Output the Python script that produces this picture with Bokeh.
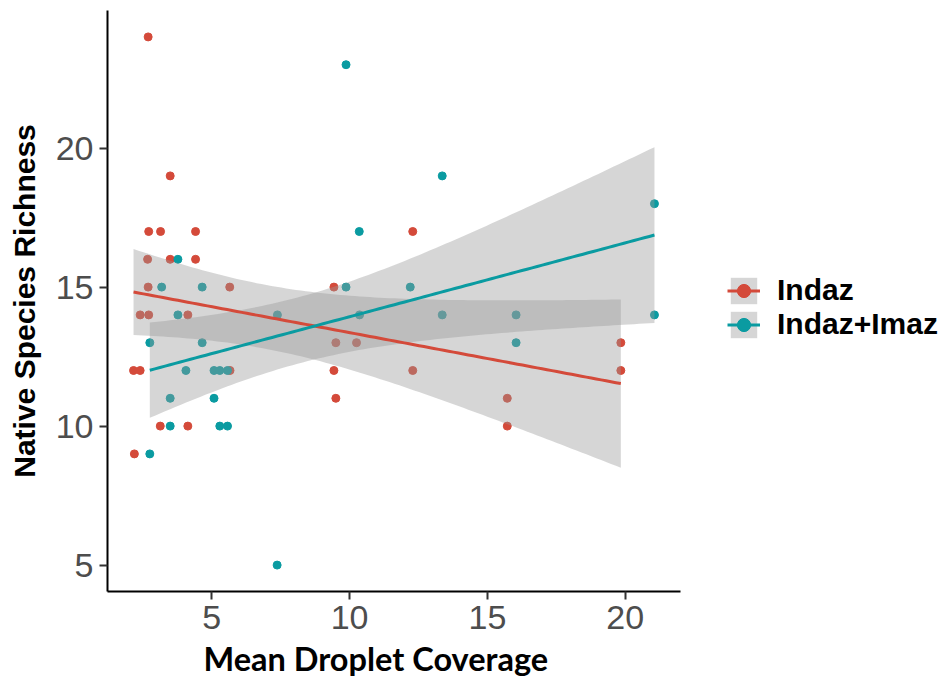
import math
import numpy as np
from bokeh.plotting import figure
from bokeh.models import Range1d, FixedTicker, Legend, LegendItem, Title
from bokeh.embed import file_html
from bokeh.resources import INLINE

# ---------------- data ----------------
groups = ["Indaz", "Indaz+Imaz"]

indaz_x = [2.69, 3.49, 2.71, 3.14, 4.41, 2.67, 3.49, 4.41, 2.69, 5.65,
           2.40, 2.71, 4.13, 2.16, 2.40, 5.66, 3.13, 4.13, 2.19,
           12.29, 9.43, 9.50, 10.25, 9.43, 12.29, 9.50, 19.84, 19.84, 15.72, 15.72]
indaz_y = [24, 19, 17, 17, 17, 16, 16, 16, 15, 15,
           14, 14, 14, 12, 12, 12, 10, 10, 9,
           17, 15, 13, 13, 12, 12, 11, 13, 12, 11, 10]

imaz_x = [3.77, 3.18, 4.65, 3.77, 2.75, 4.65, 4.06, 5.08, 5.29, 5.57,
          3.49, 5.08, 3.49, 5.29, 5.57, 2.75,
          9.87, 13.36, 10.35, 9.87, 12.20, 7.38, 10.36, 13.36, 21.06, 16.04, 21.06, 16.04, 7.37]
imaz_y = [16, 15, 15, 14, 13, 13, 12, 12, 12, 12,
          11, 11, 10, 10, 10, 9,
          23, 19, 17, 15, 15, 14, 14, 14, 18, 14, 14, 13, 5]

x_ticks = [5, 10, 15, 20]
y_ticks = [5, 10, 15, 20]

colors = ["#D44A3A", "#0A9BA1"]


def t975(df):
    c = math.exp(math.lgamma((df + 1) / 2) - math.lgamma(df / 2)) / math.sqrt(df * math.pi)

    def cdf(t):
        xs = np.linspace(0, t, 4001)
        pdf = c * (1 + xs ** 2 / df) ** (-(df + 1) / 2)
        return 0.5 + np.trapezoid(pdf, xs)

    lo, hi = 0.0, 10.0
    for _ in range(60):
        mid = (lo + hi) / 2
        if cdf(mid) < 0.975:
            lo = mid
        else:
            hi = mid
    return (lo + hi) / 2


def lm_band(xv, yv, n_pts=100):
    x = np.asarray(xv, float)
    y = np.asarray(yv, float)
    n = len(x)
    b, a = np.polyfit(x, y, 1)
    resid = y - (a + b * x)
    s = math.sqrt(np.sum(resid ** 2) / (n - 2))
    sxx = np.sum((x - x.mean()) ** 2)
    xs = np.linspace(x.min(), x.max(), n_pts)
    yh = a + b * xs
    se = s * np.sqrt(1 / n + (xs - x.mean()) ** 2 / sxx)
    t = t975(n - 2)
    return xs, yh, yh - t * se, yh + t * se


all_x = indaz_x + imaz_x
all_y = indaz_y + imaz_y
xpad = 0.05 * (max(all_x) - min(all_x))
ypad = 0.05 * (max(all_y) - min(all_y))

p = figure(frame_width=573, frame_height=581, output_backend="svg", toolbar_location=None,
           x_range=Range1d(min(all_x) - xpad, max(all_x) + xpad),
           y_range=Range1d(min(all_y) - ypad, max(all_y) + ypad),
           min_border_left=107, min_border_right=248, min_border_top=10, min_border_bottom=0)

p.outline_line_color = None
p.xgrid.visible = False
p.ygrid.visible = False
p.background_fill_color = "white"
p.border_fill_color = "white"

for ax, ticks in ((p.xaxis[0], x_ticks), (p.yaxis[0], y_ticks)):
    ax.ticker = FixedTicker(ticks=ticks)
    ax.minor_tick_line_color = None
    ax.axis_line_color = "black"
    ax.axis_line_width = 2
    ax.major_tick_line_color = "#333333"
    ax.major_tick_line_width = 2
    ax.major_tick_out = 8
    ax.major_tick_in = 0
    ax.major_label_text_font = "Liberation Sans"
    ax.major_label_text_font_size = "34px"
    ax.major_label_text_color = "#4D4D4D"
    ax.major_label_standoff = 6

p.yaxis[0].axis_label = "Native Species Richness"
p.yaxis[0].axis_label_text_font = "Liberation Sans"
p.yaxis[0].axis_label_text_font_style = "bold"
p.yaxis[0].axis_label_text_font_size = "30px"
p.yaxis[0].axis_label_text_color = "black"
p.yaxis[0].axis_label_standoff = 12

xt = Title(text="Mean Droplet Coverage", align="left", offset=96,
           text_font="Lato", text_font_style="bold", text_font_size="32.5px",
           text_color="black", standoff=11)
p.add_layout(xt, "below")

datasets = [(indaz_x, indaz_y), (imaz_x, imaz_y)]

pts = []
for (xv, yv), col in zip(datasets, colors):
    pts.append(p.scatter(xv, yv, size=8, fill_color=col, line_color=col, marker="circle"))

bands = []
fits = []
for (xv, yv) in datasets:
    xs, yh, lo, hi = lm_band(xv, yv)
    bands.append(p.varea(x=xs, y1=lo, y2=hi, fill_color="#999999", fill_alpha=0.4))
    fits.append((xs, yh))

lines = []
for (xs, yh), col in zip(fits, colors):
    lines.append(p.line(xs, yh, line_color=col, line_width=3))

items = [LegendItem(label=g, renderers=[b, l, s]) for g, b, l, s in zip(groups, bands, lines, pts)]
legend = Legend(items=items, location=(47, 250), orientation="vertical",
                glyph_width=33, glyph_height=33, label_height=33, label_standoff=17,
                padding=0, margin=0, spacing=0,
                border_line_color=None, background_fill_alpha=0,
                label_text_font="Liberation Sans", label_text_font_style="bold",
                label_text_font_size="30px", label_text_color="black")
p.add_layout(legend, "right")

open("out.html", "w").write(file_html(p, INLINE))
